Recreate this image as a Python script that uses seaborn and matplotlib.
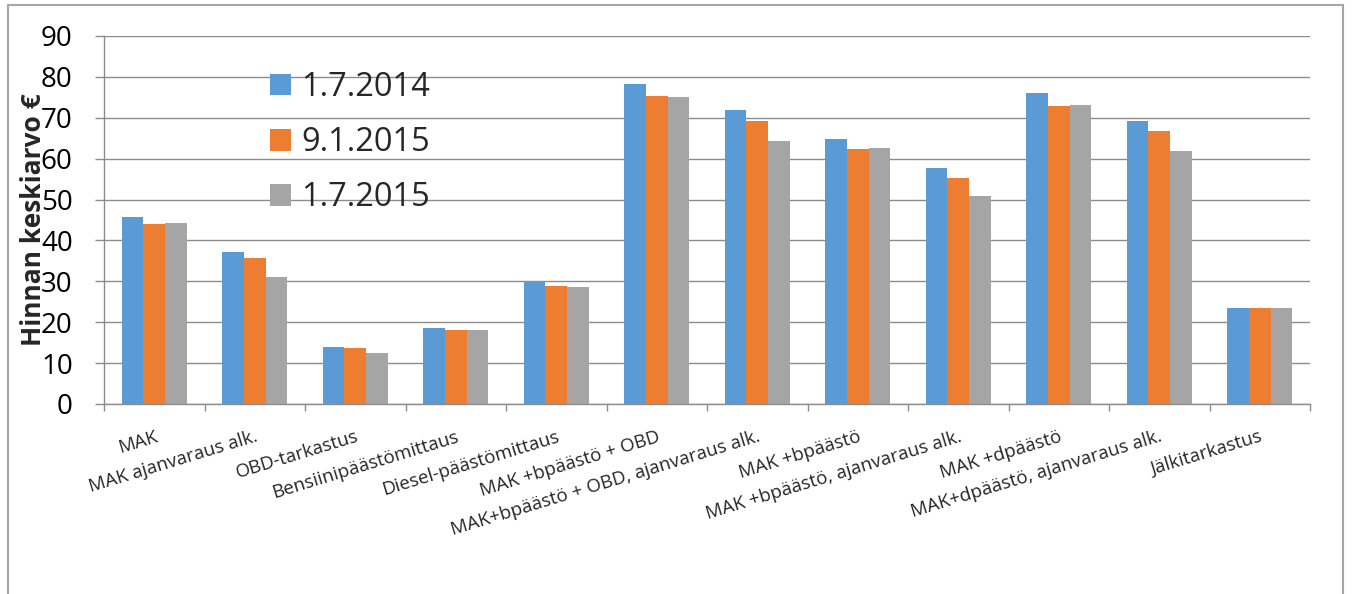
import numpy as np
import matplotlib
matplotlib.use("Agg")
import matplotlib.pyplot as plt
from matplotlib.patches import Rectangle
from matplotlib.ticker import FixedLocator
import pandas as pd
import seaborn as sns

# data
kategoriat = ["MAK", "MAK ajanvaraus alk.", "OBD-tarkastus", "Bensiinipäästömittaus",
              "Diesel-päästömittaus", "MAK +bpäästö + OBD",
              "MAK+bpäästö + OBD, ajanvaraus alk.", "MAK +bpäästö",
              "MAK +bpäästö, ajanvaraus alk.", "MAK +dpäästö",
              "MAK+dpäästö, ajanvaraus alk.", "Jälkitarkastus"]
paivat = ["1.7.2014", "9.1.2015", "1.7.2015"]
hinta_2014_07 = [45.8, 37.1, 13.9, 18.7, 30.0, 78.3, 71.9, 64.7, 57.6, 76.0, 69.2, 23.5]
hinta_2015_01 = [43.9, 35.6, 13.6, 18.2, 28.9, 75.3, 69.3, 62.3, 55.3, 73.0, 66.8, 23.6]
hinta_2015_07 = [44.2, 31.1, 12.5, 18.1, 28.6, 75.2, 64.2, 62.6, 50.9, 73.1, 61.9, 23.4]
y_ticks = [0, 10, 20, 30, 40, 50, 60, 70, 80, 90]
varit = ["#5B9BD5", "#ED7D31", "#A5A5A5"]

df = pd.DataFrame({
    "kategoria": kategoriat * 3,
    "pvm": [p for p in paivat for _ in kategoriat],
    "hinta": hinta_2014_07 + hinta_2015_01 + hinta_2015_07,
})

sns.set_style("white")
plt.rcParams["font.family"] = ["Open Sans", "DejaVu Sans"]

W, H = 1352, 594
fig = plt.figure(figsize=(W / 100, H / 100), dpi=100)
ax = fig.add_axes([104 / W, 1 - 404 / H, (1310 - 104) / W, (404 - 36) / H])

sns.barplot(data=df, x="kategoria", y="hinta", hue="pvm", order=kategoriat,
            hue_order=paivat, palette=varit, saturation=1, width=0.65,
            errorbar=None, linewidth=0, ax=ax)

gridc = "#8C8C8C"
ax.set_ylim(0, 90)
ax.set_xlim(-0.5, len(kategoriat) - 0.5)
ax.set_yticks(y_ticks)
ax.yaxis.grid(True, color=gridc, linewidth=1.0)
ax.set_axisbelow(True)
for s in ["top", "right"]:
    ax.spines[s].set_visible(False)
for s in ["left", "bottom"]:
    ax.spines[s].set_color(gridc)
    ax.spines[s].set_linewidth(1.0)

ax.tick_params(axis="y", length=6.5, width=1, color=gridc, pad=16, labelsize=20,
               labelcolor="black", left=True)
ax.tick_params(axis="x", which="major", length=0, pad=17)
ax.xaxis.set_minor_locator(FixedLocator(np.arange(-0.5, len(kategoriat), 1.0)))
ax.tick_params(axis="x", which="minor", length=5, width=1, color=gridc, bottom=True)
ax.set_xticks(range(len(kategoriat)))
ax.set_xticklabels(kategoriat, rotation=17, ha="right", va="top",
                   rotation_mode="anchor", fontsize=13.5)

ax.set_xlabel("")
# the label sits over the tick numbers, as in the original
ax.set_ylabel("Hinnan keskiarvo €", fontsize=19, fontweight="bold")
ax.yaxis.set_label_coords((47 - 104) / 1206, 0.5)

handles, labels = ax.get_legend_handles_labels()
ax.legend(handles, labels, loc="upper left", bbox_to_anchor=((270 - 104) / 1206, (404 - 71) / 368),
          frameon=False, fontsize=23.5, handlelength=0.64, handleheight=0.64,
          handletextpad=0.31, labelspacing=0.68, borderpad=0, borderaxespad=0)

fig.patches.append(Rectangle((8 / W, -0.1), (1343 - 8) / W, 1.1 - 5 / H,
                             transform=fig.transFigure, fill=False,
                             edgecolor="#A6A6A6", linewidth=1.5))

fig.savefig("out.png", dpi=100)
